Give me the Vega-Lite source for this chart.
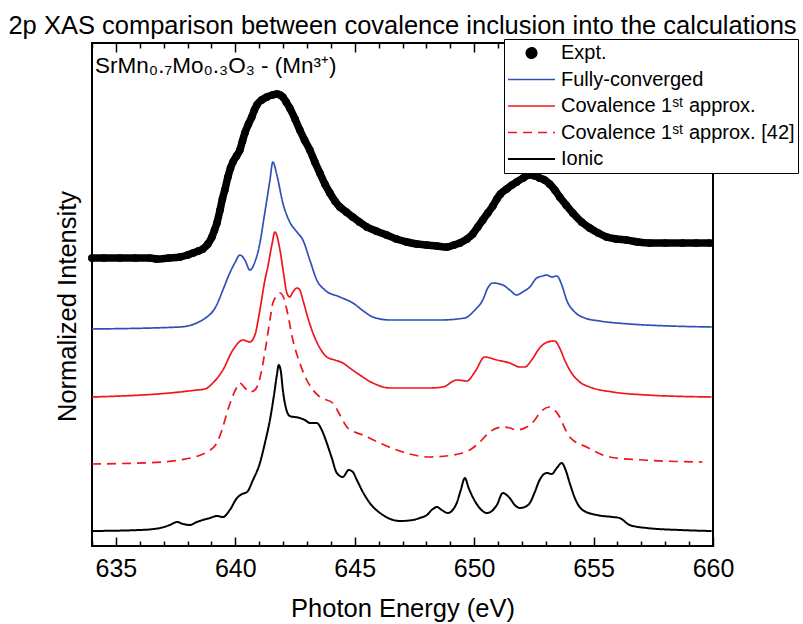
{
  "$schema": "https://vega.github.io/schema/vega-lite/v6.json",
  "width": 621,
  "height": 503,
  "autosize": {"type": "none"},
  "padding": {"left": 92, "top": 43, "right": 90, "bottom": 78},
  "background": "white",
  "title": {"text": "2p XAS comparison between covalence inclusion into the calculations", "fontSize": 25.5, "fontWeight": "normal", "font": "Liberation Sans", "color": "black", "anchor": "middle", "offset": -1},
  "config": {"font": "Liberation Sans", "view": {"stroke": "black", "strokeWidth": 2}},
  "datasets": {
    "spectra": [
      {"series":"Expt.","energy":634.00,"intensity":2.88},{"series":"Expt.","energy":634.50,"intensity":2.88},{"series":"Expt.","energy":635.17,"intensity":2.88},{"series":"Expt.","energy":635.80,"intensity":2.88},{"series":"Expt.","energy":636.43,"intensity":2.88},{"series":"Expt.","energy":636.72,"intensity":2.87},{"series":"Expt.","energy":637.20,"intensity":2.88},{"series":"Expt.","energy":637.68,"intensity":2.89},{"series":"Expt.","energy":638.00,"intensity":2.91},{"series":"Expt.","energy":638.23,"intensity":2.93},{"series":"Expt.","energy":638.45,"intensity":2.95},{"series":"Expt.","energy":638.64,"intensity":2.97},{"series":"Expt.","energy":638.85,"intensity":3.02},{"series":"Expt.","energy":639.02,"intensity":3.09},{"series":"Expt.","energy":639.13,"intensity":3.16},{"series":"Expt.","energy":639.23,"intensity":3.23},{"series":"Expt.","energy":639.36,"intensity":3.36},{"series":"Expt.","energy":639.46,"intensity":3.47},{"series":"Expt.","energy":639.56,"intensity":3.56},{"series":"Expt.","energy":639.69,"intensity":3.69},{"series":"Expt.","energy":639.80,"intensity":3.78},{"series":"Expt.","energy":639.90,"intensity":3.84},{"series":"Expt.","energy":640.05,"intensity":3.90},{"series":"Expt.","energy":640.19,"intensity":3.96},{"series":"Expt.","energy":640.30,"intensity":4.05},{"series":"Expt.","energy":640.40,"intensity":4.13},{"series":"Expt.","energy":640.55,"intensity":4.22},{"series":"Expt.","energy":640.69,"intensity":4.29},{"series":"Expt.","energy":640.80,"intensity":4.36},{"series":"Expt.","energy":640.90,"intensity":4.41},{"series":"Expt.","energy":641.10,"intensity":4.46},{"series":"Expt.","energy":641.32,"intensity":4.49},{"series":"Expt.","energy":641.55,"intensity":4.51},{"series":"Expt.","energy":641.74,"intensity":4.52},{"series":"Expt.","energy":641.88,"intensity":4.51},{"series":"Expt.","energy":641.99,"intensity":4.49},{"series":"Expt.","energy":642.13,"intensity":4.44},{"series":"Expt.","energy":642.28,"intensity":4.38},{"series":"Expt.","energy":642.50,"intensity":4.27},{"series":"Expt.","energy":642.70,"intensity":4.16},{"series":"Expt.","energy":642.90,"intensity":4.06},{"series":"Expt.","energy":643.12,"intensity":3.96},{"series":"Expt.","energy":643.33,"intensity":3.84},{"series":"Expt.","energy":643.54,"intensity":3.73},{"series":"Expt.","energy":643.75,"intensity":3.62},{"series":"Expt.","energy":643.96,"intensity":3.53},{"series":"Expt.","energy":644.17,"intensity":3.45},{"series":"Expt.","energy":644.38,"intensity":3.39},{"series":"Expt.","energy":644.65,"intensity":3.34},{"series":"Expt.","energy":644.92,"intensity":3.29},{"series":"Expt.","energy":645.20,"intensity":3.24},{"series":"Expt.","energy":645.51,"intensity":3.19},{"series":"Expt.","energy":645.90,"intensity":3.15},{"series":"Expt.","energy":646.34,"intensity":3.11},{"series":"Expt.","energy":646.75,"intensity":3.07},{"series":"Expt.","energy":647.18,"intensity":3.04},{"series":"Expt.","energy":647.60,"intensity":3.02},{"series":"Expt.","energy":648.02,"intensity":3.01},{"series":"Expt.","energy":648.45,"intensity":3.00},{"series":"Expt.","energy":648.85,"intensity":2.99},{"series":"Expt.","energy":649.15,"intensity":3.01},{"series":"Expt.","energy":649.40,"intensity":3.03},{"series":"Expt.","energy":649.70,"intensity":3.07},{"series":"Expt.","energy":649.94,"intensity":3.12},{"series":"Expt.","energy":650.15,"intensity":3.19},{"series":"Expt.","energy":650.36,"intensity":3.26},{"series":"Expt.","energy":650.57,"intensity":3.33},{"series":"Expt.","energy":650.78,"intensity":3.40},{"series":"Expt.","energy":650.95,"intensity":3.47},{"series":"Expt.","energy":651.10,"intensity":3.52},{"series":"Expt.","energy":651.36,"intensity":3.57},{"series":"Expt.","energy":651.58,"intensity":3.61},{"series":"Expt.","energy":651.78,"intensity":3.64},{"series":"Expt.","energy":652.05,"intensity":3.68},{"series":"Expt.","energy":652.33,"intensity":3.71},{"series":"Expt.","energy":652.55,"intensity":3.70},{"series":"Expt.","energy":652.74,"intensity":3.68},{"series":"Expt.","energy":652.95,"intensity":3.66},{"series":"Expt.","energy":653.16,"intensity":3.62},{"series":"Expt.","energy":653.38,"intensity":3.56},{"series":"Expt.","energy":653.58,"intensity":3.49},{"series":"Expt.","energy":653.85,"intensity":3.41},{"series":"Expt.","energy":654.13,"intensity":3.33},{"series":"Expt.","energy":654.50,"intensity":3.24},{"series":"Expt.","energy":654.84,"intensity":3.18},{"series":"Expt.","energy":655.20,"intensity":3.13},{"series":"Expt.","energy":655.55,"intensity":3.09},{"series":"Expt.","energy":655.95,"intensity":3.07},{"series":"Expt.","energy":656.38,"intensity":3.06},{"series":"Expt.","energy":656.85,"intensity":3.04},{"series":"Expt.","energy":657.35,"intensity":3.03},{"series":"Expt.","energy":658.00,"intensity":3.03},{"series":"Expt.","energy":658.73,"intensity":3.03},{"series":"Expt.","energy":659.30,"intensity":3.03},{"series":"Expt.","energy":659.86,"intensity":3.03},

      {"series":"Fully-converged","energy":634.00,"intensity":2.17},{"series":"Fully-converged","energy":637.68,"intensity":2.19},{"series":"Fully-converged","energy":638.81,"intensity":2.29},{"series":"Fully-converged","energy":639.20,"intensity":2.40},{"series":"Fully-converged","energy":639.48,"intensity":2.56},{"series":"Fully-converged","energy":639.75,"intensity":2.72},{"series":"Fully-converged","energy":640.00,"intensity":2.84},{"series":"Fully-converged","energy":640.19,"intensity":2.91},{"series":"Fully-converged","energy":640.40,"intensity":2.86},{"series":"Fully-converged","energy":640.61,"intensity":2.76},{"series":"Fully-converged","energy":640.82,"intensity":2.84},{"series":"Fully-converged","energy":641.03,"intensity":3.03},{"series":"Fully-converged","energy":641.20,"intensity":3.28},{"series":"Fully-converged","energy":641.32,"intensity":3.46},{"series":"Fully-converged","energy":641.45,"intensity":3.66},{"series":"Fully-converged","energy":641.57,"intensity":3.84},{"series":"Fully-converged","energy":641.74,"intensity":3.71},{"series":"Fully-converged","energy":641.99,"intensity":3.43},{"series":"Fully-converged","energy":642.28,"intensity":3.24},{"series":"Fully-converged","energy":642.58,"intensity":3.14},{"series":"Fully-converged","energy":642.83,"intensity":3.06},{"series":"Fully-converged","energy":643.12,"intensity":2.86},{"series":"Fully-converged","energy":643.41,"intensity":2.66},{"series":"Fully-converged","energy":643.75,"intensity":2.56},{"series":"Fully-converged","energy":644.38,"intensity":2.49},{"series":"Fully-converged","energy":644.92,"intensity":2.43},{"series":"Fully-converged","energy":645.42,"intensity":2.34},{"series":"Fully-converged","energy":645.76,"intensity":2.29},{"series":"Fully-converged","energy":646.47,"intensity":2.26},{"series":"Fully-converged","energy":647.31,"intensity":2.26},{"series":"Fully-converged","energy":648.56,"intensity":2.26},{"series":"Fully-converged","energy":649.61,"intensity":2.28},{"series":"Fully-converged","energy":650.03,"intensity":2.36},{"series":"Fully-converged","energy":650.36,"intensity":2.46},{"series":"Fully-converged","energy":650.57,"intensity":2.58},{"series":"Fully-converged","energy":650.78,"intensity":2.63},{"series":"Fully-converged","energy":651.20,"intensity":2.61},{"series":"Fully-converged","energy":651.49,"intensity":2.56},{"series":"Fully-converged","energy":651.78,"intensity":2.51},{"series":"Fully-converged","energy":652.03,"intensity":2.54},{"series":"Fully-converged","energy":652.33,"intensity":2.59},{"series":"Fully-converged","energy":652.62,"intensity":2.68},{"series":"Fully-converged","energy":652.87,"intensity":2.70},{"series":"Fully-converged","energy":653.04,"intensity":2.71},{"series":"Fully-converged","energy":653.25,"intensity":2.69},{"series":"Fully-converged","energy":653.46,"intensity":2.70},{"series":"Fully-converged","energy":653.67,"intensity":2.61},{"series":"Fully-converged","energy":653.87,"intensity":2.46},{"series":"Fully-converged","energy":654.21,"intensity":2.34},{"series":"Fully-converged","energy":654.63,"intensity":2.28},{"series":"Fully-converged","energy":655.26,"intensity":2.25},{"series":"Fully-converged","energy":656.51,"intensity":2.22},{"series":"Fully-converged","energy":658.18,"intensity":2.20},{"series":"Fully-converged","energy":659.95,"intensity":2.19},

      {"series":"Covalence 1ˢᵗ approx.","energy":634.00,"intensity":1.49},{"series":"Covalence 1ˢᵗ approx.","energy":637.68,"intensity":1.54},{"series":"Covalence 1ˢᵗ approx.","energy":638.39,"intensity":1.56},{"series":"Covalence 1ˢᵗ approx.","energy":638.73,"intensity":1.57},{"series":"Covalence 1ˢᵗ approx.","energy":639.06,"intensity":1.63},{"series":"Covalence 1ˢᵗ approx.","energy":639.48,"intensity":1.76},{"series":"Covalence 1ˢᵗ approx.","energy":639.90,"intensity":1.96},{"series":"Covalence 1ˢᵗ approx.","energy":640.32,"intensity":2.06},{"series":"Covalence 1ˢᵗ approx.","energy":640.61,"intensity":2.04},{"series":"Covalence 1ˢᵗ approx.","energy":640.82,"intensity":2.11},{"series":"Covalence 1ˢᵗ approx.","energy":641.03,"intensity":2.36},{"series":"Covalence 1ˢᵗ approx.","energy":641.24,"intensity":2.66},{"series":"Covalence 1ˢᵗ approx.","energy":641.36,"intensity":2.79},{"series":"Covalence 1ˢᵗ approx.","energy":641.53,"intensity":3.01},{"series":"Covalence 1ˢᵗ approx.","energy":641.66,"intensity":3.14},{"series":"Covalence 1ˢᵗ approx.","energy":641.87,"intensity":2.96},{"series":"Covalence 1ˢᵗ approx.","energy":642.03,"intensity":2.71},{"series":"Covalence 1ˢᵗ approx.","energy":642.16,"intensity":2.53},{"series":"Covalence 1ˢᵗ approx.","energy":642.28,"intensity":2.49},{"series":"Covalence 1ˢᵗ approx.","energy":642.41,"intensity":2.54},{"series":"Covalence 1ˢᵗ approx.","energy":642.58,"intensity":2.58},{"series":"Covalence 1ˢᵗ approx.","energy":642.70,"intensity":2.56},{"series":"Covalence 1ˢᵗ approx.","energy":642.83,"intensity":2.46},{"series":"Covalence 1ˢᵗ approx.","energy":643.04,"intensity":2.28},{"series":"Covalence 1ˢᵗ approx.","energy":643.25,"intensity":2.13},{"series":"Covalence 1ˢᵗ approx.","energy":643.54,"intensity":1.98},{"series":"Covalence 1ˢᵗ approx.","energy":643.83,"intensity":1.89},{"series":"Covalence 1ˢᵗ approx.","energy":644.17,"intensity":1.86},{"series":"Covalence 1ˢᵗ approx.","energy":644.50,"intensity":1.83},{"series":"Covalence 1ˢᵗ approx.","energy":644.79,"intensity":1.78},{"series":"Covalence 1ˢᵗ approx.","energy":645.09,"intensity":1.73},{"series":"Covalence 1ˢᵗ approx.","energy":645.76,"intensity":1.63},{"series":"Covalence 1ˢᵗ approx.","energy":646.47,"intensity":1.58},{"series":"Covalence 1ˢᵗ approx.","energy":648.14,"intensity":1.58},{"series":"Covalence 1ˢᵗ approx.","energy":648.69,"intensity":1.59},{"series":"Covalence 1ˢᵗ approx.","energy":649.27,"intensity":1.66},{"series":"Covalence 1ˢᵗ approx.","energy":649.69,"intensity":1.65},{"series":"Covalence 1ˢᵗ approx.","energy":650.03,"intensity":1.74},{"series":"Covalence 1ˢᵗ approx.","energy":650.44,"intensity":1.89},{"series":"Covalence 1ˢᵗ approx.","energy":650.95,"intensity":1.86},{"series":"Covalence 1ˢᵗ approx.","energy":651.49,"intensity":1.83},{"series":"Covalence 1ˢᵗ approx.","energy":651.91,"intensity":1.79},{"series":"Covalence 1ˢᵗ approx.","energy":652.12,"intensity":1.79},{"series":"Covalence 1ˢᵗ approx.","energy":652.41,"intensity":1.86},{"series":"Covalence 1ˢᵗ approx.","energy":652.74,"intensity":1.98},{"series":"Covalence 1ˢᵗ approx.","energy":653.08,"intensity":2.04},{"series":"Covalence 1ˢᵗ approx.","energy":653.37,"intensity":2.05},{"series":"Covalence 1ˢᵗ approx.","energy":653.58,"intensity":1.98},{"series":"Covalence 1ˢᵗ approx.","energy":653.79,"intensity":1.86},{"series":"Covalence 1ˢᵗ approx.","energy":654.00,"intensity":1.76},{"series":"Covalence 1ˢᵗ approx.","energy":654.42,"intensity":1.64},{"series":"Covalence 1ˢᵗ approx.","energy":654.84,"intensity":1.59},{"series":"Covalence 1ˢᵗ approx.","energy":655.80,"intensity":1.54},{"series":"Covalence 1ˢᵗ approx.","energy":657.22,"intensity":1.51},{"series":"Covalence 1ˢᵗ approx.","energy":659.94,"intensity":1.49},

      {"series":"Covalence 1ˢᵗ approx. [42]","energy":634.00,"intensity":0.82},{"series":"Covalence 1ˢᵗ approx. [42]","energy":636.97,"intensity":0.84},{"series":"Covalence 1ˢᵗ approx. [42]","energy":637.68,"intensity":0.86},{"series":"Covalence 1ˢᵗ approx. [42]","energy":638.81,"intensity":0.94},{"series":"Covalence 1ˢᵗ approx. [42]","energy":639.23,"intensity":1.03},{"series":"Covalence 1ˢᵗ approx. [42]","energy":639.44,"intensity":1.16},{"series":"Covalence 1ˢᵗ approx. [42]","energy":639.65,"intensity":1.33},{"series":"Covalence 1ˢᵗ approx. [42]","energy":639.86,"intensity":1.48},{"series":"Covalence 1ˢᵗ approx. [42]","energy":640.07,"intensity":1.59},{"series":"Covalence 1ˢᵗ approx. [42]","energy":640.19,"intensity":1.63},{"series":"Covalence 1ˢᵗ approx. [42]","energy":640.40,"intensity":1.58},{"series":"Covalence 1ˢᵗ approx. [42]","energy":640.61,"intensity":1.54},{"series":"Covalence 1ˢᵗ approx. [42]","energy":640.82,"intensity":1.56},{"series":"Covalence 1ˢᵗ approx. [42]","energy":641.03,"intensity":1.68},{"series":"Covalence 1ˢᵗ approx. [42]","energy":641.24,"intensity":1.94},{"series":"Covalence 1ˢᵗ approx. [42]","energy":641.45,"intensity":2.26},{"series":"Covalence 1ˢᵗ approx. [42]","energy":641.57,"intensity":2.43},{"series":"Covalence 1ˢᵗ approx. [42]","energy":641.74,"intensity":2.50},{"series":"Covalence 1ˢᵗ approx. [42]","energy":641.87,"intensity":2.53},{"series":"Covalence 1ˢᵗ approx. [42]","energy":642.03,"intensity":2.48},{"series":"Covalence 1ˢᵗ approx. [42]","energy":642.16,"intensity":2.36},{"series":"Covalence 1ˢᵗ approx. [42]","energy":642.41,"intensity":2.06},{"series":"Covalence 1ˢᵗ approx. [42]","energy":642.70,"intensity":1.83},{"series":"Covalence 1ˢᵗ approx. [42]","energy":642.95,"intensity":1.68},{"series":"Covalence 1ˢᵗ approx. [42]","energy":643.25,"intensity":1.56},{"series":"Covalence 1ˢᵗ approx. [42]","energy":643.54,"intensity":1.49},{"series":"Covalence 1ˢᵗ approx. [42]","energy":644.08,"intensity":1.43},{"series":"Covalence 1ˢᵗ approx. [42]","energy":644.38,"intensity":1.31},{"series":"Covalence 1ˢᵗ approx. [42]","energy":644.67,"intensity":1.19},{"series":"Covalence 1ˢᵗ approx. [42]","energy":645.00,"intensity":1.14},{"series":"Covalence 1ˢᵗ approx. [42]","energy":645.34,"intensity":1.11},{"series":"Covalence 1ˢᵗ approx. [42]","energy":646.05,"intensity":1.03},{"series":"Covalence 1ˢᵗ approx. [42]","energy":646.76,"intensity":0.96},{"series":"Covalence 1ˢᵗ approx. [42]","energy":648.14,"intensity":0.89},{"series":"Covalence 1ˢᵗ approx. [42]","energy":649.52,"intensity":0.93},{"series":"Covalence 1ˢᵗ approx. [42]","energy":649.94,"intensity":0.98},{"series":"Covalence 1ˢᵗ approx. [42]","energy":650.32,"intensity":1.06},{"series":"Covalence 1ˢᵗ approx. [42]","energy":650.65,"intensity":1.14},{"series":"Covalence 1ˢᵗ approx. [42]","energy":651.20,"intensity":1.19},{"series":"Covalence 1ˢᵗ approx. [42]","energy":651.49,"intensity":1.18},{"series":"Covalence 1ˢᵗ approx. [42]","energy":651.78,"intensity":1.16},{"series":"Covalence 1ˢᵗ approx. [42]","energy":652.20,"intensity":1.19},{"series":"Covalence 1ˢᵗ approx. [42]","energy":652.54,"intensity":1.26},{"series":"Covalence 1ˢᵗ approx. [42]","energy":652.74,"intensity":1.33},{"series":"Covalence 1ˢᵗ approx. [42]","energy":653.16,"intensity":1.39},{"series":"Covalence 1ˢᵗ approx. [42]","energy":653.37,"intensity":1.36},{"series":"Covalence 1ˢᵗ approx. [42]","energy":653.58,"intensity":1.29},{"series":"Covalence 1ˢᵗ approx. [42]","energy":653.79,"intensity":1.18},{"series":"Covalence 1ˢᵗ approx. [42]","energy":654.00,"intensity":1.09},{"series":"Covalence 1ˢᵗ approx. [42]","energy":654.71,"intensity":0.99},{"series":"Covalence 1ˢᵗ approx. [42]","energy":655.67,"intensity":0.89},{"series":"Covalence 1ˢᵗ approx. [42]","energy":657.05,"intensity":0.86},{"series":"Covalence 1ˢᵗ approx. [42]","energy":659.56,"intensity":0.84},

      {"series":"Ionic","energy":634.00,"intensity":0.15},{"series":"Ionic","energy":636.01,"intensity":0.16},{"series":"Ionic","energy":636.85,"intensity":0.18},{"series":"Ionic","energy":637.26,"intensity":0.21},{"series":"Ionic","energy":637.56,"intensity":0.24},{"series":"Ionic","energy":637.81,"intensity":0.22},{"series":"Ionic","energy":638.10,"intensity":0.21},{"series":"Ionic","energy":638.39,"intensity":0.24},{"series":"Ionic","energy":638.64,"intensity":0.26},{"series":"Ionic","energy":638.94,"intensity":0.28},{"series":"Ionic","energy":639.23,"intensity":0.30},{"series":"Ionic","energy":639.48,"intensity":0.29},{"series":"Ionic","energy":639.77,"intensity":0.36},{"series":"Ionic","energy":640.07,"intensity":0.48},{"series":"Ionic","energy":640.28,"intensity":0.52},{"series":"Ionic","energy":640.49,"intensity":0.54},{"series":"Ionic","energy":640.74,"intensity":0.66},{"series":"Ionic","energy":641.03,"intensity":0.83},{"series":"Ionic","energy":641.24,"intensity":1.03},{"series":"Ionic","energy":641.45,"intensity":1.26},{"series":"Ionic","energy":641.62,"intensity":1.51},{"series":"Ionic","energy":641.74,"intensity":1.71},{"series":"Ionic","energy":641.82,"intensity":1.81},{"series":"Ionic","energy":641.91,"intensity":1.74},{"series":"Ionic","energy":641.99,"intensity":1.56},{"series":"Ionic","energy":642.12,"intensity":1.38},{"series":"Ionic","energy":642.28,"intensity":1.30},{"series":"Ionic","energy":642.70,"intensity":1.28},{"series":"Ionic","energy":642.91,"intensity":1.26},{"series":"Ionic","energy":643.12,"intensity":1.23},{"series":"Ionic","energy":643.41,"intensity":1.23},{"series":"Ionic","energy":643.62,"intensity":1.16},{"series":"Ionic","energy":643.83,"intensity":1.03},{"series":"Ionic","energy":644.04,"intensity":0.88},{"series":"Ionic","energy":644.25,"intensity":0.73},{"series":"Ionic","energy":644.50,"intensity":0.69},{"series":"Ionic","energy":644.75,"intensity":0.76},{"series":"Ionic","energy":644.92,"intensity":0.74},{"series":"Ionic","energy":645.09,"intensity":0.66},{"series":"Ionic","energy":645.34,"intensity":0.54},{"series":"Ionic","energy":645.63,"intensity":0.43},{"series":"Ionic","energy":646.18,"intensity":0.31},{"series":"Ionic","energy":646.89,"intensity":0.25},{"series":"Ionic","energy":647.43,"intensity":0.26},{"series":"Ionic","energy":647.72,"intensity":0.28},{"series":"Ionic","energy":648.02,"intensity":0.31},{"series":"Ionic","energy":648.27,"intensity":0.37},{"series":"Ionic","energy":648.44,"intensity":0.39},{"series":"Ionic","energy":648.64,"intensity":0.36},{"series":"Ionic","energy":648.90,"intensity":0.33},{"series":"Ionic","energy":649.10,"intensity":0.36},{"series":"Ionic","energy":649.27,"intensity":0.43},{"series":"Ionic","energy":649.44,"intensity":0.56},{"series":"Ionic","energy":649.61,"intensity":0.68},{"series":"Ionic","energy":649.77,"intensity":0.58},{"series":"Ionic","energy":649.94,"intensity":0.49},{"series":"Ionic","energy":650.23,"intensity":0.38},{"series":"Ionic","energy":650.53,"intensity":0.33},{"series":"Ionic","energy":650.74,"intensity":0.35},{"series":"Ionic","energy":650.95,"intensity":0.41},{"series":"Ionic","energy":651.20,"intensity":0.53},{"series":"Ionic","energy":651.36,"intensity":0.51},{"series":"Ionic","energy":651.49,"intensity":0.48},{"series":"Ionic","energy":651.70,"intensity":0.41},{"series":"Ionic","energy":651.91,"intensity":0.38},{"series":"Ionic","energy":652.12,"intensity":0.39},{"series":"Ionic","energy":652.33,"intensity":0.43},{"series":"Ionic","energy":652.54,"intensity":0.54},{"series":"Ionic","energy":652.74,"intensity":0.66},{"series":"Ionic","energy":653.04,"intensity":0.73},{"series":"Ionic","energy":653.25,"intensity":0.72},{"series":"Ionic","energy":653.46,"intensity":0.78},{"series":"Ionic","energy":653.67,"intensity":0.83},{"series":"Ionic","energy":653.83,"intensity":0.76},{"series":"Ionic","energy":654.00,"intensity":0.63},{"series":"Ionic","energy":654.25,"intensity":0.46},{"series":"Ionic","energy":654.54,"intensity":0.36},{"series":"Ionic","energy":655.13,"intensity":0.31},{"series":"Ionic","energy":655.80,"intensity":0.29},{"series":"Ionic","energy":656.09,"intensity":0.28},{"series":"Ionic","energy":656.51,"intensity":0.21},{"series":"Ionic","energy":657.22,"intensity":0.18},{"series":"Ionic","energy":658.60,"intensity":0.16},{"series":"Ionic","energy":659.94,"intensity":0.15}
    ]
  },
  "data": {"name": "spectra"},
  "resolve": {"axis": {"x": "independent", "y": "independent"}},
  "layer": [
    {
      "transform": [{"filter": "datum.series !== 'Expt.'"}],
      "mark": {"type": "line", "interpolate": "monotone", "strokeJoin": "round"},
      "encoding": {
        "x": {"field": "energy", "type": "quantitative", "scale": {"domain": [634, 660], "nice": false, "zero": false},
          "axis": {"orient": "bottom", "values": [635, 640, 645, 650, 655, 660],
            "tickSize": -9, "tickColor": "black", "tickWidth": 1.5,
            "labelFontSize": 25, "labelColor": "black", "labelPadding": 19, "labelOverlap": false, "labelFlush": false, "labelBound": false,
            "domain": false, "grid": false,
            "title": "Photon Energy (eV)", "titleFontSize": 25.5, "titleFontWeight": "normal", "titleColor": "black",
            "titleY": 70, "titleBaseline": "alphabetic"}},
        "y": {"field": "intensity", "type": "quantitative", "scale": {"domain": [0, 5.03], "nice": false, "zero": false},
          "axis": {"title": "Normalized Intensity", "labels": false, "ticks": false, "domain": false, "grid": false,
            "titleFontSize": 25.5, "titleFontWeight": "normal", "titleColor": "black",
            "titleX": -17, "titleY": 263, "titleBaseline": "alphabetic", "titleAngle": -90}},
        "color": {"field": "series", "type": "nominal",
          "scale": {"domain": ["Expt.", "Fully-converged", "Covalence 1ˢᵗ approx.", "Covalence 1ˢᵗ approx. [42]", "Ionic"],
                    "range": ["#000000", "#3050b8", "#f0141c", "#f0141c", "#000000"]},
          "legend": {"title": null, "orient": "none", "legendX": 412, "legendY": -4, "direction": "vertical",
            "symbolType": "M-2.35,0H2.35", "symbolSize": 400, "symbolStrokeWidth": 1.8,
            "labelFontSize": 20, "labelFont": "Liberation Sans", "labelColor": "black", "labelLimit": 0, "labelOffset": 27,
            "clipHeight": 22, "rowPadding": 4.5, "padding": 3, "strokeColor": "black", "fillColor": "white",
            "encode": {"symbols": {"update": {
              "shape": {"signal": "datum.value === 'Expt.' ? 'M-0.25,0A0.25,0.25 0 1,0 0.25,0A0.25,0.25 0 1,0 -0.25,0Z' : 'M-2.35,0H2.35'"},
              "x": {"value": 24.5},
              "fill": {"signal": "datum.value === 'Expt.' ? 'black' : 'transparent'"},
              "strokeDash": {"signal": "indexOf(datum.value, '[42]') >= 0 ? [9, 6] : [1, 0]"}
            }}}}},
        "strokeDash": {"field": "series", "type": "nominal",
          "scale": {"domain": ["Expt.", "Fully-converged", "Covalence 1ˢᵗ approx.", "Covalence 1ˢᵗ approx. [42]", "Ionic"],
                    "range": [[1, 0], [1, 0], [1, 0], [9, 6], [1, 0]]}, "legend": null},
        "strokeWidth": {"field": "series", "type": "nominal",
          "scale": {"type": "ordinal", "domain": ["Expt.", "Fully-converged", "Covalence 1ˢᵗ approx.", "Covalence 1ˢᵗ approx. [42]", "Ionic"],
                    "range": [7, 1.7, 1.7, 1.7, 2]}, "legend": null}
      }
    },
    {
      "transform": [{"filter": "datum.series === 'Expt.'"}],
      "mark": {"type": "line", "interpolate": "monotone", "color": "black", "strokeWidth": 7.5, "strokeCap": "round", "strokeJoin": "round"},
      "encoding": {
        "x": {"field": "energy", "type": "quantitative",
          "axis": {"orient": "top", "values": [635, 640, 645, 650, 655, 660],
            "tickSize": -9, "tickColor": "black", "tickWidth": 1.5, "labels": false, "domain": false, "grid": false, "title": null}},
        "y": {"field": "intensity", "type": "quantitative", "axis": null}
      }
    },
    {
      "transform": [{"filter": "datum.series === 'Expt.'"}],
      "mark": {"type": "point", "filled": true, "size": 60, "color": "black", "opacity": 1},
      "encoding": {
        "x": {"field": "energy", "type": "quantitative",
          "axis": {"orient": "bottom", "values": [634,636,637,638,639,641,642,643,644,646,647,648,649,651,652,653,654,656,657,658,659],
            "tickSize": -5, "tickColor": "black", "tickWidth": 1.5, "labels": false, "domain": false, "grid": false, "title": null}},
        "y": {"field": "intensity", "type": "quantitative", "axis": null}
      }
    },
    {
      "data": {"values": [{}]},
      "mark": {"type": "text", "text": "SrMn₀.₇Mo₀.₃O₃ - (Mn³⁺)", "align": "left", "baseline": "alphabetic", "fontSize": 22.5, "font": "Liberation Sans", "color": "black"},
      "encoding": {
        "x": {"datum": 634.13, "type": "quantitative",
          "axis": {"orient": "top", "values": [634,636,637,638,639,641,642,643,644,646,647,648,649,651,652,653,654,656,657,658,659],
            "tickSize": -5, "tickColor": "black", "tickWidth": 1.5, "labels": false, "domain": false, "grid": false, "title": null}},
        "y": {"datum": 4.73, "type": "quantitative", "axis": null}
      }
    }
  ]
}
